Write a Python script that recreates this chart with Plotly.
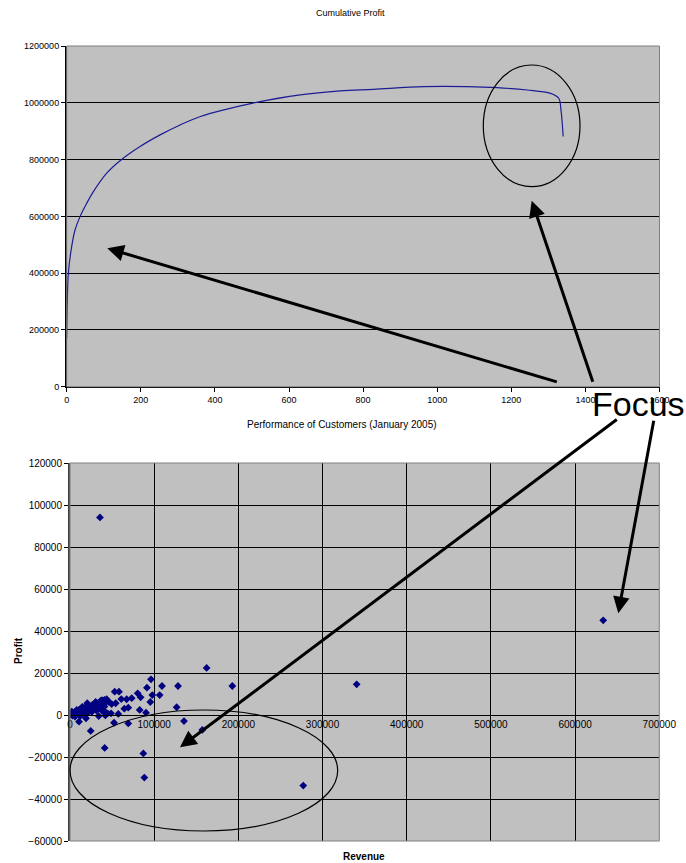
import plotly.graph_objects as go

W, H = 686, 863

# ---- Top chart: cumulative profit by customer rank ----
cust_rank = [0, 1.7, 4.5, 13.5, 22.5, 36, 54, 72, 108, 144, 198, 252, 306, 359, 430,
             503, 630, 738, 828, 963, 1080, 1161, 1243, 1306, 1328, 1334, 1340]
cum_profit = [172000, 306000, 400000, 494000, 552000, 599000, 646000, 687000, 752000,
              796000, 846000, 887000, 922000, 951000, 977000, 999000, 1027600, 1041600,
              1047500, 1056800, 1056800, 1053300, 1045000, 1033000, 1016000, 975000, 881000]

# ---- Bottom chart: revenue vs profit per customer ----
revenue = [35600, 633400, 340500, 162300, 192800, 277100, 88300, 87100, 41200, 157100,
           135400, 126700, 128300, 109300, 96200, 91400, 97800, 106500, 80400, 83900,
           95400, 82800, 90300, 73300, 67300, 69200, 64500, 69200, 58200, 53100,
           60900, 54300, 57400, 52300, 24600, 10700, 19000, 34100, 42000, 48700,
           44700, 41600, 46300, 49500, 38400, 40800, 43600, 38800, 33600, 27700,
           20500, 14600, 8000, 2000, 500,
           1000, 2000, 3000, 4000, 5000, 6000, 7000, 8000, 9000, 10000,
           11000, 12000, 13000, 14000, 15000, 16000, 17000, 18000, 19000, 20000,
           21000, 22000, 23000, 24000, 25000, 26000, 27000, 28000, 29000, 30000,
           31000, 32000, 33000, 35000, 36000, 37000, 39000, 41000, 42000, 12000,
           15000, 6000, 18000, 22000, 26000, 3500, 1500, 2500, 4500, 7500,
           9500, 11500, 16500, 21500, 24500, 28500, 31500, 34000, 37500, 30500]
profit = [94100, 45100, 14600, 22400, 13800, -33600, -29800, -18300, -15700, -7100,
          -2900, 3700, 13800, 13800, 17000, 13000, 9500, 9500, 10300, 8400,
          6200, 2400, 1100, 8000, 7500, 3500, 3000, -4000, 11100, 11100,
          7600, 5600, 500, -3700, -7600, -3200, -1600, -500, -200, 800,
          800, 1600, 6200, 5200, 1900, 4000, 7500, 7000, 5200, 5100,
          5600, 3900, 2400, 1600, 700,
          200, 500, -300, 1000, 800, 1500, 1200, 600, 2000, 1800,
          2500, 2200, 1500, 3000, 2600, 3200, 2000, 3500, 2800, 4000,
          3300, 2500, 4300, 3700, 3000, 4600, 3900, 2700, 4800, 4200,
          3500, 5500, 4500, 6000, 5000, 7000, 6500, 7200, 5800, -500,
          500, -800, 1000, 1800, 1500, 300, 900, 1300, 400, 1900,
          700, 1200, 2400, 1100, 2200, 3300, 2100, 3000, 4500, 6200]

top_xticks = [0, 200, 400, 600, 800, 1000, 1200, 1400, 1600]
top_yticks = [0, 200000, 400000, 600000, 800000, 1000000, 1200000]
bot_xticks = [0, 100000, 200000, 300000, 400000, 500000, 600000, 700000]
bot_yticks = [-60000, -40000, -20000, 0, 20000, 40000, 60000, 80000, 100000, 120000]


def fx(p):
    return p / W


def fy(p):
    return 1 - p / H


NARROW = "Liberation Sans Narrow, Arial Narrow, Liberation Sans, Arial, sans-serif"
ARIAL = "Liberation Sans, Arial, sans-serif"
GREY = "#C0C0C0"

# plot-area pixel boxes (left, top, right, bottom)
top_box = (66.7, 46, 659.5, 386.7)
bot_box = (70, 463, 659.3, 841)

fig = go.Figure()
fig.add_trace(go.Scatter(x=cust_rank, y=cum_profit, mode="lines",
                         line=dict(color="#1c1c96", width=1.2, shape="spline", smoothing=1.0),
                         xaxis="x", yaxis="y", showlegend=False, hoverinfo="skip"))
fig.add_trace(go.Scatter(x=revenue, y=profit, mode="markers",
                         marker=dict(symbol="diamond", size=6, color="#000080"),
                         xaxis="x2", yaxis="y2", showlegend=False, hoverinfo="skip"))

bot_y_dom = [fy(bot_box[3]), fy(bot_box[1])]
zero_pos = bot_y_dom[0] + (0 - (-60000)) / 180000 * (bot_y_dom[1] - bot_y_dom[0])

fig.update_layout(
    width=W, height=H,
    margin=dict(l=0, r=0, t=0, b=0, autoexpand=False),
    paper_bgcolor="white",
    plot_bgcolor=GREY,
    font=dict(family=ARIAL, color="black"),
    xaxis=dict(domain=[fx(top_box[0]), fx(top_box[2])], range=[0, 1600],
               tickvals=top_xticks, showgrid=False, zeroline=False,
               showline=True, linecolor="black", linewidth=1,
               ticks="outside", ticklen=4, tickcolor="black", automargin=False,
               tickfont=dict(family=NARROW, size=9), anchor="y"),
    yaxis=dict(domain=[fy(top_box[3]), fy(top_box[1])], range=[0, 1200000],
               tickvals=top_yticks, tickformat="d", showgrid=True,
               gridcolor="black", gridwidth=1, zeroline=False,
               showline=True, linecolor="black", linewidth=1.5,
               ticks="outside", ticklen=4, tickcolor="black", automargin=False,
               tickfont=dict(family=NARROW, size=9), anchor="x"),
    xaxis2=dict(domain=[fx(bot_box[0]), fx(bot_box[2])], range=[0, 700000],
                tickvals=bot_xticks, tickformat="d", showgrid=True,
                gridcolor="black", gridwidth=1, zeroline=False,
                showline=True, linecolor="black", linewidth=1,
                ticks="inside", ticklen=4, tickcolor="black", automargin=False,
                tickfont=dict(family=ARIAL, size=10),
                anchor="free", position=zero_pos),
    yaxis2=dict(domain=bot_y_dom, range=[-60000, 120000],
                tickvals=bot_yticks, tickformat="d", showgrid=True,
                gridcolor="black", gridwidth=1, zeroline=False,
                showline=True, linecolor="#404040", linewidth=2,
                ticks="outside", ticklen=4, tickcolor="black", automargin=False,
                tickfont=dict(family=ARIAL, size=10), anchor="x2"),
)

shapes = []
# plot-area borders
for (l, t, r, b) in (top_box, bot_box):
    shapes.append(dict(type="rect", xref="paper", yref="paper",
                       x0=fx(l), x1=fx(r), y0=fy(b), y1=fy(t),
                       line=dict(color="#808080", width=1), layer="above"))
# focus ellipses
shapes.append(dict(type="circle", xref="paper", yref="paper",
                   x0=fx(483.3), x1=fx(580), y0=fy(186.7), y1=fy(65),
                   line=dict(color="black", width=1.2)))
shapes.append(dict(type="circle", xref="paper", yref="paper",
                   x0=fx(70), x1=fx(337.7), y0=fy(831), y1=fy(710),
                   line=dict(color="black", width=1.2)))

annotations = []
# arrows: (head_x, head_y, tail_x, tail_y) in pixels
arrows = [(107.3, 248.3, 558.3, 382.3),
          (531.7, 200.7, 593.3, 383.3),
          (180, 747.3, 618.3, 418.3),
          (618.3, 613.3, 654, 419.3)]
for hx, hy, tx, ty in arrows:
    annotations.append(dict(x=fx(hx), y=fy(hy), xref="paper", yref="paper",
                            ax=tx - hx, ay=ty - hy, axref="pixel", ayref="pixel",
                            text="", showarrow=True, arrowhead=2, arrowsize=1.1,
                            arrowwidth=3, arrowcolor="black", standoff=0))

annotations += [
    dict(text="Cumulative Profit", x=fx(350), y=fy(13), xref="paper", yref="paper",
         showarrow=False, font=dict(family=NARROW, size=9), xanchor="center", yanchor="middle"),
    dict(text="Performance of Customers (January 2005)", x=fx(341.7), y=fy(424),
         xref="paper", yref="paper", showarrow=False,
         font=dict(family=ARIAL, size=10), xanchor="center", yanchor="middle"),
    dict(text="<b>Revenue</b>", x=fx(364), y=fy(856), xref="paper", yref="paper",
         showarrow=False, font=dict(family=ARIAL, size=10), xanchor="center", yanchor="middle"),
    dict(text="<b>Profit</b>", x=fx(18), y=fy(651), xref="paper", yref="paper",
         showarrow=False, textangle=-90, font=dict(family=ARIAL, size=10),
         xanchor="center", yanchor="middle"),
    dict(text="Focus", x=fx(638), y=fy(404), xref="paper", yref="paper",
         showarrow=False, font=dict(family=ARIAL, size=34, color="black"),
         xanchor="center", yanchor="middle"),
]

fig.update_layout(shapes=shapes, annotations=annotations)
fig.write_html(
    "out.html",
    config={"displayModeBar": False},
    post_script="document.body.style.margin='0';document.body.style.overflow='hidden';",
)
